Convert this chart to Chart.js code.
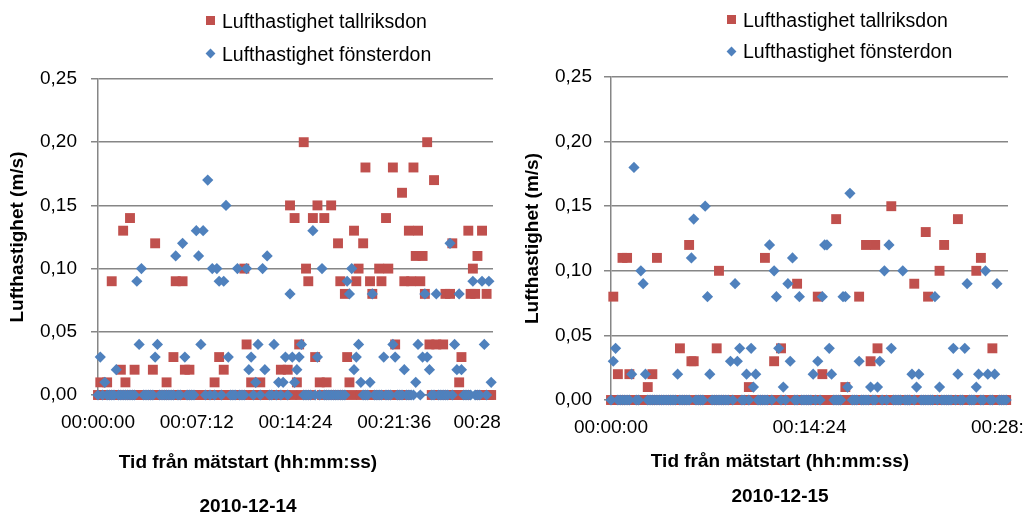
<!DOCTYPE html>
<html>
<head>
<meta charset="utf-8">
<script src="https://cdn.jsdelivr.net/npm/chart.js@4"></script>
<style>
html, body { margin: 0; padding: 0; width: 1024px; height: 515px; overflow: hidden; background: #fff; }
.box { position: absolute; top: 0; height: 515px; }
#boxLeft { left: -8px; width: 512px; }
#boxRight { left: 512px; width: 536px; }
.lg { position: absolute; font-family: 'Liberation Sans', sans-serif; font-size: 19.5px; line-height: 20px; color: #000; white-space: nowrap; }
.sq { position: absolute; width: 9px; height: 9px; background: #C0504D; }
.dia { position: absolute; width: 7px; height: 7px; background: #4F81BD; transform: rotate(45deg); }
</style>
</head>
<body>
<div class="box" id="boxLeft"><canvas id="chart1214"></canvas></div>
<div class="box" id="boxRight"><canvas id="chart1215"></canvas></div>
<div id="legends"></div>
<script>
// serienamn och axeltexter
const seriesNames = ['Lufthastighet tallriksdon', 'Lufthastighet fönsterdon'];
const yTitle = 'Lufthastighet (m/s)';
const xTitle = 'Tid från mätstart (hh:mm:ss)';
const yTickLabels = ['0,00', '0,05', '0,10', '0,15', '0,20', '0,25'];
const timeTicks1214 = ['00:00:00', '00:07:12', '00:14:24', '00:21:36', '00:28'];
const timeTicks1215 = ['00:00:00', '00:14:24', '00:28:48'];

// ett värde var 10:e sekund, 0 - 1720 s
const sampleStep = 10;

// 2010-12-14
const tallriks1214 = [
    0,0.01,0,0,0.01,0,0.09,0,0,0,
    0.02,0.13,0.01,0,0.14,0,0.02,0,0,0,
    0,0,0,0,0.02,0.12,0,0,0,0,
    0.01,0,0,0.03,0.09,0,0,0.09,0.02,0,
    0.02,0,0,0,0,0,0,0,0,0,
    0,0.01,0,0.03,0,0.02,0,0,0,0,
    0,0,0,0,0.10,0.04,0,0.01,0,0,
    0,0.01,0,0,0,0,0,0,0,0,
    0.02,0,0,0.02,0.15,0,0.14,0.01,0.04,0,
    0.20,0.10,0.09,0,0.14,0.03,0.15,0.01,0,0.14,
    0.01,0,0.15,0,0,0.12,0.09,0,0.08,0.03,
    0.01,0,0.13,0.09,0.10,0,0.12,0.18,0,0.09,
    0.08,0,0,0.10,0.09,0,0.14,0.10,0,0.18,
    0.04,0,0,0.16,0.09,0,0.13,0.09,0.18,0.11,
    0.13,0.09,0.11,0.08,0.20,0.04,0,0.17,0.04,0,
    0,0.04,0.08,0,0.08,0.12,0,0,0.01,0.03,
    0,0,0.13,0.08,0.10,0.08,0.11,0,0.13,0,
    0.08,0,0
];
const fonster1214 = [
    0,0.03,0,0.01,0,0,0,0,0.02,0,
    0,0,0,0,0,0,0,0.09,0.04,0.10,
    0,0,0,0,0,0.03,0.04,0,0,0,
    0,0,0,0,0.11,0,0,0.12,0.03,0,
    0,0,0,0.13,0.11,0.04,0.13,0,0.17,0,
    0.10,0,0.10,0.09,0,0.09,0.15,0.03,0,0,
    0,0.10,0,0,0,0.10,0.02,0.03,0,0.01,
    0.04,0,0.10,0.02,0.11,0,0,0.04,0,0.01,
    0,0.01,0.03,0,0.08,0.03,0.01,0.02,0.03,0.04,
    0,0,0,0,0.13,0,0.03,0,0.10,0,
    0,0,0,0,0,0,0,0,0,0.09,
    0.08,0.10,0.02,0.03,0.04,0.01,0,0,0,0.01,
    0.08,0,0,0,0,0.03,0,0,0,0.04,
    0.03,0,0,0,0.02,0,0,0,0,0.01,
    0.04,0,0.03,0.08,0.03,0.02,0,0,0.08,0,
    0,0,0,0,0.12,0,0.04,0.02,0.08,0.02,
    0,0,0,0,0.09,0,0,0,0.09,0.04,
    0,0.09,0.01
];

// 2010-12-15
const tallriks1215 = [
    0,0.08,0,0.02,0,0.11,0,0.11,0.02,0,
    0,0,0,0,0,0,0.01,0,0.02,0,
    0.11,0,0,0,0,0,0,0,0,0,
    0.04,0,0,0,0.12,0.03,0.03,0,0,0,
    0,0,0,0,0,0,0.04,0.10,0,0,
    0,0,0,0,0,0,0,0,0,0,
    0.01,0,0,0,0,0,0,0.11,0,0,
    0,0.03,0,0,0.04,0,0,0,0,0,
    0,0.09,0,0,0,0,0,0,0,0,
    0.08,0,0.02,0,0,0,0,0,0.14,0,
    0,0,0.01,0,0,0,0,0,0.08,0,
    0,0.12,0,0.03,0,0.12,0.04,0,0,0,
    0,0,0.15,0,0,0,0,0,0,0,
    0,0,0.09,0,0,0,0,0.13,0.08,0,
    0,0,0,0.10,0,0.12,0,0,0,0,
    0,0.14,0,0,0,0,0,0,0,0.10,
    0,0.11,0,0,0,0,0.04,0,0,0,
    0,0,0
];
const fonster1215 = [
    0,0.03,0.04,0,0,0,0,0,0,0.02,
    0.18,0,0,0.10,0.09,0.02,0,0,0,0,
    0,0,0,0,0,0,0,0,0,0.02,
    0,0,0,0,0,0.11,0.14,0,0,0,
    0,0.15,0.08,0.02,0,0,0,0,0,0,
    0,0,0.03,0,0.09,0.03,0.04,0,0,0.02,
    0,0.04,0.01,0.02,0,0,0,0,0,0.12,
    0,0.10,0.08,0.04,0,0.01,0,0.09,0.03,0.11,
    0,0,0.08,0,0,0,0,0,0.02,0,
    0.03,0,0.08,0.12,0.12,0.04,0.02,0,0,0,
    0,0.08,0.08,0.01,0.16,0,0,0,0.03,0,
    0,0,0,0.01,0,0,0.01,0.03,0,0.10,
    0,0.12,0.04,0,0,0,0,0.10,0,0,
    0,0.02,0,0.01,0.02,0,0,0,0,0,
    0,0.08,0,0.01,0,0,0,0,0,0.04,
    0,0.02,0,0,0.04,0.09,0,0,0,0.01,
    0.02,0,0,0.10,0.02,0,0,0.02,0.09,0,
    0,0,0
];

Chart.defaults.font.family = "'Liberation Sans', sans-serif";
Chart.defaults.font.size = 19;
Chart.defaults.color = '#000';

const gridColor = '#868686';

function toPoints(values) {
    return values.map((v, i) => ({ x: i * sampleStep, y: v }));
}

function buildChart(canvasId, tallriks, fonster, timeTicks, stepX, dateText, g) {
    return new Chart(document.getElementById(canvasId), {
        type: 'scatter',
        data: {
            datasets: [{
                label: seriesNames[0],
                data: toPoints(tallriks),
                pointStyle: 'rect',
                pointRadius: 7,
                backgroundColor: '#C0504D',
                borderColor: '#C0504D',
                borderWidth: 0,
                order: 1,
                clip: false
            },
            {
                label: seriesNames[1],
                data: toPoints(fonster),
                pointStyle: 'rectRot',
                pointRadius: 5.6,
                backgroundColor: '#4F81BD',
                borderColor: '#4F81BD',
                borderWidth: 0,
                order: 0,
                clip: false
            }]
        },
        options: {
            responsive: true,
            maintainAspectRatio: false,
            animation: false,
            events: [],
            layout: { padding: { top: g.top, left: 0, right: 0, bottom: g.bottom } },
            plugins: {
                legend: { display: false },
                tooltip: { enabled: false },
                subtitle: {
                    display: true,
                    position: 'bottom',
                    text: xTitle,
                    color: '#000',
                    font: { weight: 'bold', size: 19, lineHeight: 1.2 },
                    padding: { top: g.subTop, bottom: 0 }
                },
                title: {
                    display: true,
                    position: 'bottom',
                    text: dateText,
                    color: '#000',
                    font: { weight: 'bold', size: 19, lineHeight: 0.8 },
                    padding: { top: g.titleTop, bottom: 0 }
                }
            },
            scales: {
                x: {
                    type: 'linear',
                    min: 0,
                    max: 1728,
                    ticks: {
                        stepSize: stepX,
                        padding: g.xPad,
                        maxRotation: 0,
                        autoSkip: false,
                        callback: (v, i) => (g.shiftLast && i === timeTicks.length - 1) ? timeTicks[i] + '      ' : timeTicks[i]
                    },
                    grid: { drawOnChartArea: false, tickLength: 5, color: gridColor, lineWidth: 1.5 },
                    border: { color: gridColor, width: 1.5 },
                    afterFit: s => { s.height = g.xHeight; s.paddingLeft = 0; s.paddingRight = g.right; }
                },
                y: {
                    min: 0,
                    max: 0.25,
                    ticks: { stepSize: 0.05, padding: g.yPad, callback: (v, i) => yTickLabels[i] },
                    grid: { color: gridColor, lineWidth: 1.5, tickLength: 7 },
                    border: { color: gridColor, width: 1.5 },
                    title: {
                        display: true,
                        text: yTitle,
                        font: { weight: 'bold', size: 19 },
                        padding: { top: g.yTitlePad, bottom: 0 }
                    },
                    afterFit: s => { s.width = g.yWidth; }
                }
            }
        }
    });
}

buildChart('chart1214', tallriks1214, fonster1214, timeTicks1214, 432, '2010-12-14', {
    top: 79, bottom: 0.4, right: 11, yWidth: 106, xHeight: 39,
    xPad: 11.5, yPad: 14, yTitlePad: 14.6, subTop: 17.6, titleTop: 25, shiftLast: true
});
buildChart('chart1215', tallriks1215, fonster1215, timeTicks1215, 864, '2010-12-15', {
    top: 77, bottom: 10.4, right: 40, yWidth: 99, xHeight: 39,
    xPad: 11.5, yPad: 12, yTitlePad: 9.6, subTop: 11.6, titleTop: 16, shiftLast: false
});

// legend som html
const legendPos = [
    { x: 210, y1: 20, y2: 53, tx: 222, t1: 11, t2: 44 },
    { x: 731, y1: 19, y2: 51, tx: 743, t1: 9.5, t2: 41 }
];
let html = '';
legendPos.forEach(p => {
    html += '<div class="sq" style="left:' + (p.x - 4.5) + 'px;top:' + (p.y1 - 4.5) + 'px"></div>';
    html += '<div class="lg" style="left:' + p.tx + 'px;top:' + p.t1 + 'px">' + seriesNames[0] + '</div>';
    html += '<div class="dia" style="left:' + (p.x - 3.5) + 'px;top:' + (p.y2 - 3.5) + 'px"></div>';
    html += '<div class="lg" style="left:' + p.tx + 'px;top:' + p.t2 + 'px">' + seriesNames[1] + '</div>';
});
document.getElementById('legends').innerHTML = html;
</script>
</body>
</html>
